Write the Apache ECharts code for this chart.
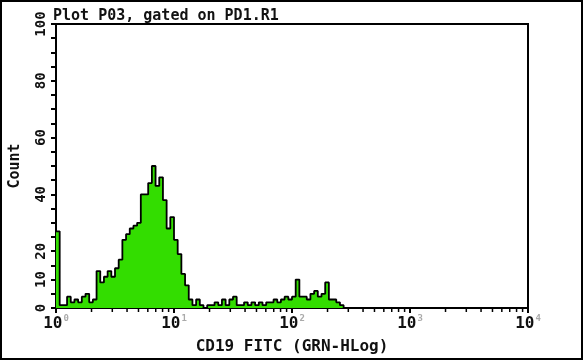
<!DOCTYPE html>
<html>
<head>
<meta charset="utf-8">
<script src="https://cdn.jsdelivr.net/npm/echarts@6/dist/echarts.min.js"></script>
<style>
html,body{margin:0;padding:0;background:#fff;}
#c{width:583px;height:360px;}
</style>
</head>
<body>
<div id="c"></div>
<script>
// Histogram: 128 channels over 4 log decades (32 channels per decade), counts per channel
var binsPerDecade = 32;
var counts = [
  27, 1, 1, 4, 2, 3, 2, 4, 5, 2,
  3, 13, 9, 11, 13, 11, 14, 17, 24, 26,
  28, 29, 30, 40, 40, 44, 50, 43, 46, 38,
  28, 32, 24, 19, 12, 8, 3, 1, 3, 1,
  0, 1, 1, 2, 1, 3, 1, 3, 4, 1,
  1, 2, 1, 2, 1, 2, 1, 2, 2, 3,
  2, 3, 4, 3, 4, 10, 4, 4, 3, 5,
  6, 4, 5, 9, 3, 3, 2, 1, 0, 0,
  0, 0, 0, 0, 0, 0, 0, 0, 0, 0,
  0, 0, 0, 0, 0, 0, 0, 0, 0, 0,
  0, 0, 0, 0, 0, 0, 0, 0, 0, 0,
  0, 0, 0, 0, 0, 0, 0, 0, 0, 0,
  0, 0, 0, 0, 0, 0, 0, 0
];
var xDecades = [1, 10, 100, 1000, 10000];
var yLabelsShown = [0, 10, 20, 40, 60, 80, 100];
var minorMultipliers = [2, 3, 4, 5, 6, 7, 8, 9];
var titleText = 'Plot P03, gated on PD1.R1';
var xTitle = 'CD19 FITC (GRN-HLog)';
var yTitle = 'Count';

var histData = counts.map(function (c, i) { return [Math.pow(10, i / binsPerDecade), c]; });
histData.push([10000, 0]);

var minorTicks = [];
for (var d = 0; d < xDecades.length - 1; d++) {
  for (var m = 0; m < minorMultipliers.length; m++) {
    minorTicks.push([xDecades[d] * minorMultipliers[m], 0]);
  }
}

var FONT = '"DejaVu Sans Mono", monospace';
var chart = echarts.init(document.getElementById('c'), null, {renderer: 'canvas'});
chart.setOption({
  animation: false,
  backgroundColor: '#fff',
  title: {
    text: titleText, left: 48, top: 4,
    textStyle: {fontFamily: FONT, fontSize: 15, fontWeight: 'bold', color: '#111'}
  },
  grid: {left: 53, right: 55, top: 24, bottom: 52, show: true, borderColor: '#000', borderWidth: 2, backgroundColor: 'transparent'},
  xAxis: {
    type: 'log', logBase: 10, min: 1, max: 10000,
    name: xTitle, nameLocation: 'middle', nameGap: 31,
    nameTextStyle: {fontFamily: FONT, fontSize: 16, fontWeight: 'bold', color: '#111'},
    axisLine: {lineStyle: {color: '#000', width: 2}},
    axisTick: {show: true, length: 5, lineStyle: {color: '#000', width: 2}},
    splitLine: {show: false},
    axisLabel: {
      margin: 8,
      formatter: function (v) { return '{b|10}{s|' + Math.round(Math.log10(v)) + '}'; },
      fontFamily: FONT, fontSize: 16, fontWeight: 'bold', color: '#111',
      rich: {
        b: {fontFamily: FONT, fontSize: 16, fontWeight: 'bold', color: '#111', lineHeight: 16},
        s: {fontFamily: FONT, fontSize: 9, color: '#aaa', lineHeight: 9, padding: [0, 0, 10, 1]}
      }
    }
  },
  yAxis: {
    type: 'value', min: 0, max: 100, interval: 5,
    name: yTitle, nameLocation: 'middle', nameGap: 33, nameRotate: 90,
    nameTextStyle: {fontFamily: FONT, fontSize: 15, fontWeight: 'bold', color: '#111'},
    axisLine: {show: true, lineStyle: {color: '#000', width: 2}},
    axisTick: {show: true, length: 5, lineStyle: {color: '#000', width: 2}},
    splitLine: {show: false},
    axisLabel: {
      rotate: 90, margin: 8,
      fontFamily: FONT, fontSize: 14, fontWeight: 'bold', color: '#111',
      formatter: function (v) { return yLabelsShown.indexOf(v) >= 0 ? String(v) : ''; }
    }
  },
  graphic: [{
    type: 'rect', shape: {x: 1, y: 1, width: 581, height: 358},
    style: {fill: 'none', stroke: '#000', lineWidth: 2}, z: 100
  }],
  series: [{
    type: 'line', step: 'end', symbol: 'none', data: histData,
    lineStyle: {color: '#000', width: 1.8},
    areaStyle: {color: '#33dd00', opacity: 1},
    z: 3
  }, {
    type: 'custom', clip: false, data: minorTicks,
    renderItem: function (params, api) {
      var p = api.coord([api.value(0), 0]);
      return {type: 'line', shape: {x1: p[0], y1: p[1] + 1, x2: p[0], y2: p[1] + 4}, style: {stroke: '#000', lineWidth: 1.5}};
    },
    z: 4
  }]
});
</script>
</body>
</html>
